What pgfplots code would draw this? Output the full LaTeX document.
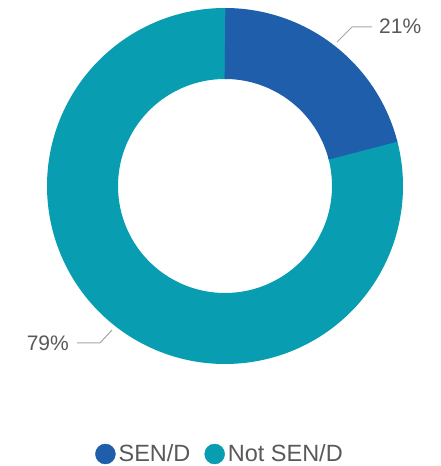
\documentclass[border=0pt]{standalone}
\usepackage{pgfplots}
\pgfplotsset{compat=1.18}
\usepackage{pgfplotstable}
\usepackage{fontspec}
\setmainfont{Liberation Sans}
\definecolor{sencol}{HTML}{1E5EAB}
\definecolor{notcol}{HTML}{089DB0}
\definecolor{labgray}{HTML}{595959}
\definecolor{leadgray}{HTML}{A6A6A6}

\pgfplotstableread{
label value
SEN/D 21
NotSEN/D 79
}\piedata

\begin{document}
\begin{tikzpicture}
\pgfplotstablegetelem{0}{value}\of\piedata \edef\va{\pgfplotsretval}
\pgfplotstablegetelem{1}{value}\of\piedata \edef\vb{\pgfplotsretval}
\pgfmathsetmacro\aA{90}
\pgfmathsetmacro\aB{90-3.6*\va}
\pgfmathsetmacro\aC{\aB-3.6*\vb}
\pgfmathsetmacro\aBx{\aB+0.8}
\pgfmathsetmacro\aCx{\aC-0.8}
% outer radius 178, inner radius 107: ring drawn at mid radius with width 71
\def\Rm{142.5}
\begin{axis}[x=1pt,y=1pt, xmin=-225,xmax=216,ymin=-280,ymax=186,
  hide axis, clip=false,
  legend columns=2,
  legend style={at={(axis cs:-6,-268)}, anchor=center, draw=none, fill=none,
    font=\fontsize{23.5}{27}\selectfont, text=labgray,
    nodes={inner sep=0pt},
    /tikz/every odd column/.append style={column sep=3pt},
    /tikz/every even column/.append style={column sep=14pt},
    inner sep=0pt},
]
\addlegendimage{legend image code/.code={\fill[sencol] (0pt,0pt) circle (10pt);}}
\addlegendentry{SEN/D}
\addlegendimage{legend image code/.code={\fill[notcol] (0pt,0pt) circle (10pt);}}
\addlegendentry{Not SEN/D}
% Not SEN/D (drawn first, slightly overlapping under SEN/D)
\addplot[notcol, line width=71pt, line cap=butt, line join=round, domain=\aBx:\aCx, samples=400, smooth, forget plot]
 ({\Rm*cos(x)},{\Rm*sin(x)});
% SEN/D
\addplot[sencol, line width=71pt, line cap=butt, line join=round, domain=\aA:\aB, samples=120, smooth, forget plot]
 ({\Rm*cos(x)},{\Rm*sin(x)});
\addplot[leadgray, line width=1pt, forget plot] coordinates {(112,144) (127,159) (147,159)};
\addplot[leadgray, line width=1pt, forget plot] coordinates {(-113,-144) (-125,-157) (-148,-157)};
\node[anchor=west, text=labgray, font=\fontsize{21}{25}\selectfont, inner sep=0pt] at (axis cs:154,160) {21\%};
\node[anchor=east, text=labgray, font=\fontsize{21}{25}\selectfont, inner sep=0pt] at (axis cs:-156,-157) {79\%};
\path (axis cs:-225,-280) rectangle (axis cs:216,186);
\end{axis}
\end{tikzpicture}
\end{document}
